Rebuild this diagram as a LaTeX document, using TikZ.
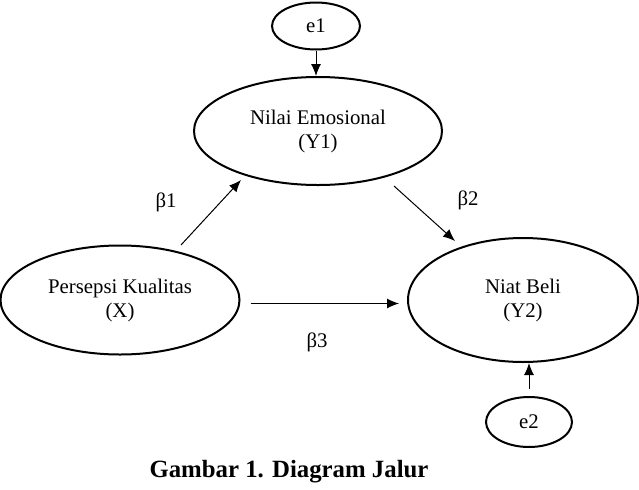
\documentclass[tikz,border=0pt]{standalone}
\usepackage{fontspec}
\setmainfont{Liberation Serif}
\usetikzlibrary{calc,shapes.geometric,arrows.meta}

\begin{document}
\begin{tikzpicture}[x=0.5pt,y=-0.5pt,
    var/.style={draw,ellipse,line width=1pt,inner sep=0pt,align=center,
        font=\fontsize{10.4}{12}\selectfont},
    arr/.style={line width=0.5pt,-{Latex[length=6pt,width=5pt]}},
    coef/.style={font=\fontsize{10.4}{12}\selectfont}]
    \useasboundingbox (0,0) rectangle (639,489);

    \node[var,minimum width=44pt,minimum height=23.5pt] (e1) at (316,26) {e1};
    \node[var,minimum width=124pt,minimum height=54pt] (ne) at (318,131)
        {Nilai Emosional\\(Y1)};
    \node[var,minimum width=119.5pt,minimum height=54.5pt] (pk) at (120,300)
        {Persepsi Kualitas\\(X)};
    \node[var,minimum width=115pt,minimum height=62pt] (nb) at (523,300)
        {Niat Beli\\(Y2)};
    \node[var,minimum width=43pt,minimum height=25pt] (e2) at (529,422) {e2};

    \draw [arr] (e1.south) -- (e1.south |- ne.north);
    \draw [arr] ($(pk.north)+(61,0.5)$)
        -- ($(ne.south)+(-77,-6)$);
    \draw [arr] ($(ne.south)+(76,0)$)
        -- ($(nb.north)+(-68,4)$);
    \draw [arr] ($(pk.east)+(10,3.5)$)
        -- ($(nb.west)+(-8,3.5)$);
    \draw [arr] ($(e2.north)+(0,-7)$) -- (e2.north |- nb.south);

    \node[coef] (b1) at (166,202) {β1};
    \node[coef] (b2) at (468,200) {β2};
    \node[coef] (b3) at (317,342) {β3};

    \node[font=\fontsize{12.4}{14}\selectfont\bfseries] (cap) at (289,472)
        {Gambar 1. Diagram Jalur};
\end{tikzpicture}
\end{document}
